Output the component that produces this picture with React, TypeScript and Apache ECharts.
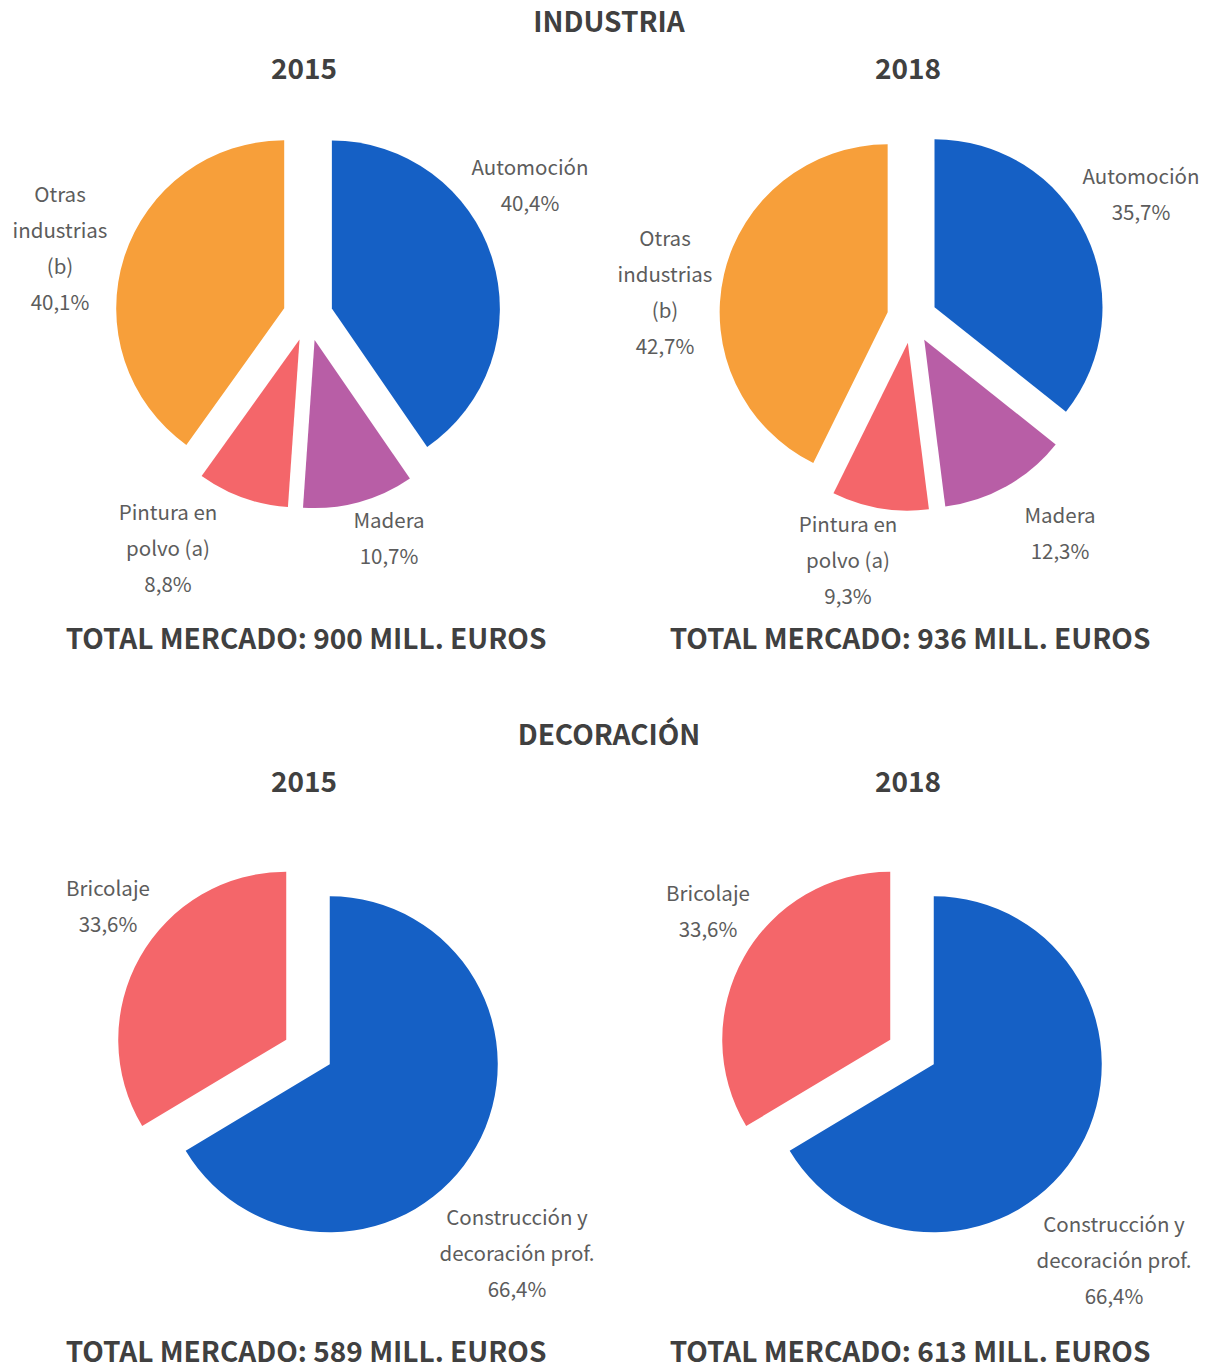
import { useEffect, useRef } from 'react';
import * as echarts from 'echarts';

// ---- data ----
const industriaCategories = ['Automoción', 'Madera', 'Pintura en\npolvo (a)', 'Otras\nindustrias\n(b)'];
const industria2015 = [40.4, 10.7, 8.8, 40.1];
const industria2018 = [35.7, 12.3, 9.3, 42.7];
const decoracionCategories = ['Construcción y\ndecoración prof.', 'Bricolaje'];
const decoracion2015 = [66.4, 33.6];
const decoracion2018 = [66.4, 33.6];
const sectionTitles = ['INDUSTRIA', 'DECORACIÓN'];
const years = ['2015', '2018'];
const totals = [900, 936, 589, 613];

// ---- styles / layout ----
const industriaColors = ['#1560C5', '#B85EA6', '#F4666A', '#F79F3A'];
const decoracionColors = ['#1560C5', '#F4666A'];
const FONT = '"Noto Sans CJK JP", "Noto Sans", sans-serif';
const TITLE_COLOR = '#404040';
const LABEL_COLOR = '#5c5c5c';
const RADIUS = 168;
const OFFSET = 25;
const PIE_CENTERS = [
  [308, 316],
  [912, 318],
  [308, 1052],
  [912, 1052],
];
// label block centres, per pie and per slice
const LABEL_CENTERS = [
  [[530, 184], [389, 537], [168, 547], [60, 247]],
  [[1141, 193], [1060, 532], [848, 559], [665, 291]],
  [[517, 1252], [108, 905]],
  [[1114, 1259], [708, 910]],
];
const SECTION_Y = [20, 733];
const YEAR_Y = [67, 780];
const TOTAL_Y = [637, 1350];
const COL_X = [306, 910];

const fmt = (v: number) => v.toFixed(1).replace('.', ',') + '%';

function makePie(idx: number, cats: string[], vals: number[], colors: string[]) {
  return {
    type: 'pie',
    center: PIE_CENTERS[idx],
    radius: RADIUS,
    startAngle: 90,
    clockwise: true,
    selectedMode: 'multiple',
    selectedOffset: OFFSET,
    avoidLabelOverlap: false,
    label: { show: false },
    labelLine: { show: false },
    emphasis: { disabled: true },
    data: cats.map((name, i) => ({
      name,
      value: vals[i],
      selected: true,
      itemStyle: { color: colors[i] },
    })),
  };
}

function sliceLabels(idx: number, cats: string[], vals: number[]) {
  return cats.map((name, i) => ({
    type: 'text',
    x: LABEL_CENTERS[idx][i][0],
    y: LABEL_CENTERS[idx][i][1],
    silent: true,
    style: {
      text: name + '\n' + fmt(vals[i]),
      fill: LABEL_COLOR,
      fontFamily: FONT,
      fontSize: 20.5,
      lineHeight: 36,
      textAlign: 'center',
      textVerticalAlign: 'middle',
    },
  }));
}

export default function App() {
  const ref = useRef<HTMLDivElement>(null);
  useEffect(() => {
    if (!ref.current) return;
    const chart = echarts.init(ref.current, null, { renderer: 'svg' });
    const graphics: any[] = [];
    const titleText = (text: string, x: number, y: number) => ({
      type: 'text',
      x,
      y,
      silent: true,
      style: {
        text,
        fill: TITLE_COLOR,
        fontFamily: FONT,
        fontWeight: 'bold',
        fontSize: 28,
        textAlign: 'center',
        textVerticalAlign: 'middle',
      },
    });
    sectionTitles.forEach((t, s) => {
      graphics.push(titleText(t, 609, SECTION_Y[s]));
      years.forEach((y, c) => {
        graphics.push(titleText(y, COL_X[c] - 2, YEAR_Y[s]));
        graphics.push(
          titleText(`TOTAL MERCADO: ${totals[s * 2 + c]} MILL. EUROS`, COL_X[c], TOTAL_Y[s])
        );
      });
    });
    graphics.push(...sliceLabels(0, industriaCategories, industria2015));
    graphics.push(...sliceLabels(1, industriaCategories, industria2018));
    graphics.push(...sliceLabels(2, decoracionCategories, decoracion2015));
    graphics.push(...sliceLabels(3, decoracionCategories, decoracion2018));
    chart.setOption({
      animation: false,
      backgroundColor: '#ffffff',
      graphic: graphics,
      series: [
        makePie(0, industriaCategories, industria2015, industriaColors),
        makePie(1, industriaCategories, industria2018, industriaColors),
        makePie(2, decoracionCategories, decoracion2015, decoracionColors),
        makePie(3, decoracionCategories, decoracion2018, decoracionColors),
      ],
    });
    return () => chart.dispose();
  }, []);
  return (
    <div
      ref={ref}
      style={{ position: 'absolute', left: 0, top: 0, width: 1207, height: 1364 }}
    />
  );
}
